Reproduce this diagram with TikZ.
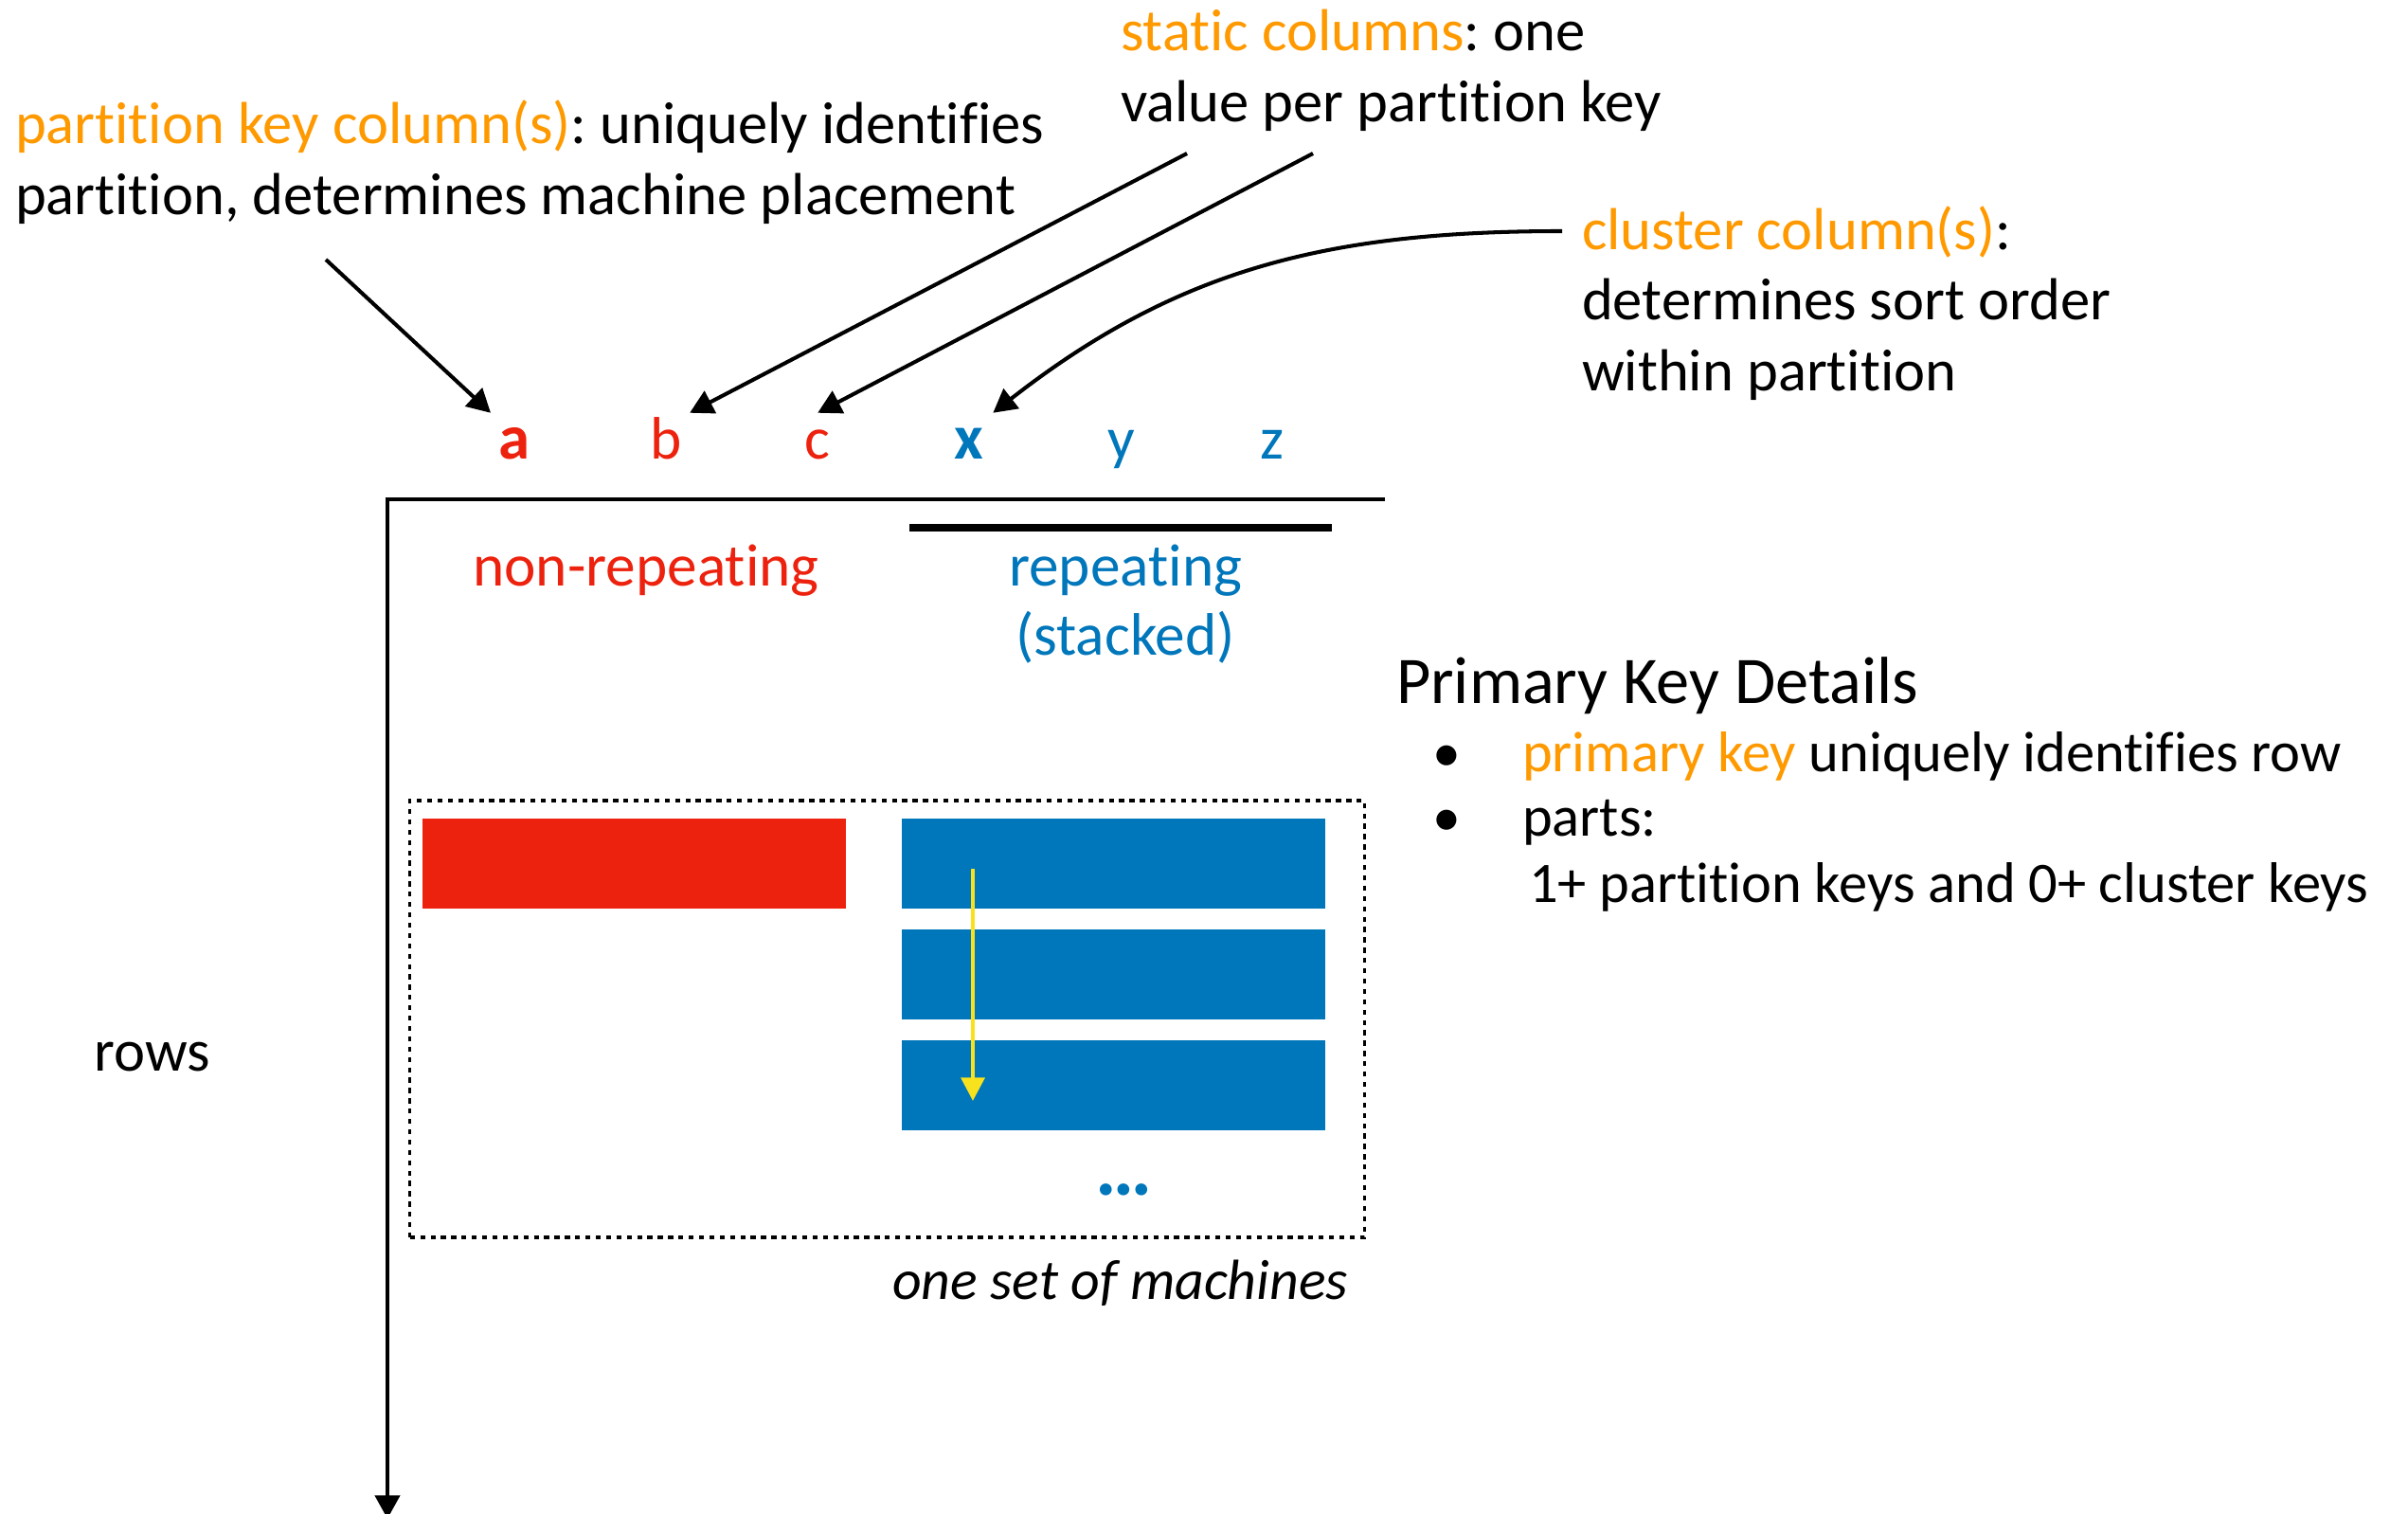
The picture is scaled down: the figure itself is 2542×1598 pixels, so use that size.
\documentclass[tikz,border=0pt]{standalone}
\usepackage{fontspec}
\setmainfont{Carlito}[Ligatures=CommonOff]
\usetikzlibrary{positioning, arrows.meta, calc}
\frenchspacing

\definecolor{keyorange}{RGB}{255,153,0}
\definecolor{colred}{RGB}{237,34,14}
\definecolor{colblue}{RGB}{0,118,187}
\definecolor{sortyellow}{RGB}{248,226,30}

\begin{document}
\begin{tikzpicture}[
    x=0.01cm, y=-0.01cm,
    every node/.style={inner sep=0pt, outer sep=0pt},
    note/.style={anchor=base west, font=\fontsize{17.8}{21}\selectfont},
    listtext/.style={anchor=base west, font=\fontsize{17.2}{20}\selectfont},
    colname/.style={anchor=base, minimum width=0.5cm, text height=14pt, text depth=4pt, font=\fontsize{18}{21}\selectfont},
    headtext/.style={anchor=base, font=\fontsize{18}{21}\selectfont},
    pointer/.style={-{Triangle[length=7pt, width=7.4pt]}, line width=1.15pt},
    bar/.style={minimum width=4.47cm, minimum height=0.95cm}
]
    \useasboundingbox (0,0) rectangle (2542,1598);

    % Notes
    \node[note] (pk1) at (16,152) {\textcolor{keyorange}{partition key column(s)}: uniquely identifies};
    \node[note] (pk2) at ($(pk1.base west)+(0,75)$) {partition, determines machine placement};
    \node[note] (static1) at (1183,54) {\textcolor{keyorange}{static columns}: one};
    \node[note] (static2) at ($(static1.base west)+(0,75)$) {value per partition key};
    \node[note] (cluster1) at (1670,264) {\textcolor{keyorange}{cluster column(s)}:};
    \node[note] (cluster2) at ($(cluster1.base west)+(0,74)$) {determines sort order};
    \node[note] (cluster3) at ($(cluster2.base west)+(0,75)$) {within partition};

    % Column names
    \node[colname, text=colred, font=\fontsize{19}{21}\selectfont\bfseries] (colA) at (543,485) {a};
    \node[colname, text=colred] (colB) [right=1.1cm of colA] {b};
    \node[colname, text=colred] (colC) [right=1.1cm of colB] {c};
    \node[colname, text=colblue, font=\fontsize{19}{21}\selectfont\bfseries] (colX) [right=1.1cm of colC] {x};
    \node[colname, text=colblue] (colY) [right=1.1cm of colX] {y};
    \node[colname, text=colblue] (colZ) [right=1.1cm of colY] {z};

    % Pointers
    \coordinate (pkTail) at (344,274);
    \coordinate (staticTailB) at (1253,162);
    \coordinate (staticTailC) at (1386,162);
    \coordinate (clusterTail) at (1649,244);
    \draw[pointer] (pkTail) -- (colA.north west);
    \draw[pointer] (staticTailB) -- (colB.north east);
    \draw[pointer] (staticTailC) -- (colC.north);
    \draw[pointer] (clusterTail) to[out=180, in=38] (colX.north east);

    % Axes
    \coordinate (origin) at (409,527);
    \coordinate (axisEnd) at (1462,527);
    \coordinate (rowsEnd) at (409,1603);
    \draw[pointer] (axisEnd) -- (origin) -- (rowsEnd);
    \draw[line width=2pt] (960,557) -- (1406,557);

    \node[headtext, text=colred] (nonrep) at (682,619) {non-repeating};
    \node[headtext, text=colblue] (rep) at (1188,619) {repeating};
    \node[headtext, text=colblue] (stacked) at ($(rep.base)+(0,73)$) {(stacked)};
    \node[note] (rows) at (100,1130) {rows};

    % Machines
    \node[draw, line width=1pt, dash pattern=on 1.5pt off 1.6pt, minimum width=10.07cm, minimum height=4.61cm] (machines) at (936.5,1075.5) {};
    \node[bar, fill=colred] (nonrepBar) at (669.5,911.5) {};
    \node[bar, fill=colblue] (repBar1) at (1175.5,911.5) {};
    \node[bar, fill=colblue] (repBar2) [below=0.22cm of repBar1] {};
    \node[bar, fill=colblue] (repBar3) [below=0.22cm of repBar2] {};
    \coordinate (sortTop) at (1027,917);
    \coordinate (sortBottom) at (1027,1162);
    \draw[-{Triangle[length=7pt, width=7pt]}, line width=1.3pt, sortyellow] (sortTop) -- (sortBottom);
    \node[anchor=base, text=colblue, font=\fontsize{24}{28}\selectfont\bfseries] (more) at (1187,1261) {…};
    \node[anchor=base east, font=\fontsize{17}{21}\selectfont\itshape] (caption) at (1423,1371) {one set of machines};

    % Primary key details
    \node[note, font=\fontsize{20}{24}\selectfont] (pkTitle) at (1474,743) {Primary Key Details};
    \node[anchor=base, font=\fontsize{17}{20}\selectfont] (bullet1) at (1527,815) {•};
    \node[listtext] (item1) at (1607,815) {\textcolor{keyorange}{primary key} uniquely identifies row};
    \node[anchor=base, font=\fontsize{17}{20}\selectfont] (bullet2) at (1527,883) {•};
    \node[listtext] (item2) at (1607,883) {parts:};
    \node[listtext] (item3) at (1614,953) {1+ partition keys and 0+ cluster keys};
\end{tikzpicture}
\end{document}
